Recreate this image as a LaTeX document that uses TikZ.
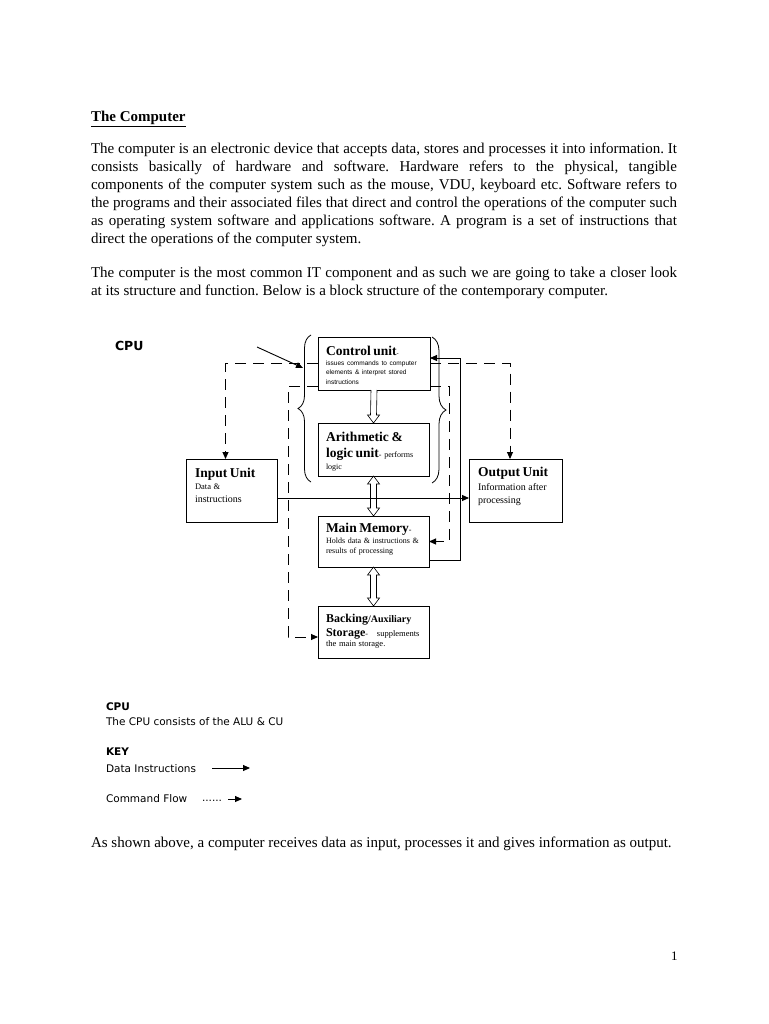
\documentclass[tikz,border=0pt]{standalone}
\usepackage{fontspec}
\setmainfont{Liberation Serif}
\setsansfont{Liberation Sans}
\newfontfamily\keyfont{DejaVu Sans}
\usetikzlibrary{
  arrows.meta,
  positioning,
  calc,
  decorations.pathreplacing
}

\newcommand{\unithead}{\fontsize{13.5}{13.5}\selectfont\bfseries}
\newcommand{\unitnote}{\fontsize{8}{10}\selectfont}
\newcommand{\unitsmall}{\sffamily\fontsize{6.5}{9.5}\selectfont}

% hollow block arrows between the stacked units
\newcommand{\hollowdown}[2]{%
  \draw[hollow] ($(#1.south)+(-3,0)$) -- ($(#2.north)+(-3,-8)$)
    -- ($(#2.north)+(-6,-8)$) -- (#2.north) -- ($(#2.north)+(6,-8)$)
    -- ($(#2.north)+(3,-8)$) -- ($(#1.south)+(3,0)$);}
\newcommand{\hollowboth}[2]{%
  \draw[hollow] (#1.south) -- ($(#1.south)+(6,8)$) -- ($(#1.south)+(3,8)$)
    -- ($(#2.north)+(3,-8)$) -- ($(#2.north)+(6,-8)$) -- (#2.north)
    -- ($(#2.north)+(-6,-8)$) -- ($(#2.north)+(-3,-8)$)
    -- ($(#1.south)+(-3,8)$) -- ($(#1.south)+(-6,8)$) -- cycle;}

\frenchspacing

\begin{document}
\begin{tikzpicture}[
    x=1pt, y=-1pt,
    every node/.style={inner sep=0pt, outer sep=0pt},
    bodytext/.style={font=\fontsize{15}{18}\selectfont, anchor=base west},
    bodypara/.style={bodytext, text width=586pt, align=justify},
    unitbox/.style={draw, line width=1pt, inner xsep=8pt, inner ysep=0pt,
                    align=left, anchor=base west, font=\unitnote},
    keytext/.style={font=\keyfont\fontsize{10.5}{12}\selectfont, anchor=base west},
    dataflow/.style={line width=0.9pt, -{Triangle[length=7pt, width=6pt]}},
    cmdflow/.style={dataflow, dash pattern=on 11pt off 7pt},
    hollow/.style={line width=0.6pt, fill=white},
    cpubrace/.style={decorate, decoration={brace, amplitude=13pt}, line width=0.8pt},
]

\path[fill=white] (0,0) rectangle (768,1024);

% page text
\node[bodytext] (title) at (91,122) {\textbf{\underline{The Computer}}};
\node[bodypara] (para1) at (91,154) {The computer is an electronic device that accepts data, stores and processes it into information. It\linebreak
consists basically of hardware and software. Hardware refers to the physical, tangible\linebreak
components of the computer system such as the mouse, VDU, keyboard etc. Software refers to\linebreak
the programs and their associated files that direct and control the operations of the computer such\linebreak
as operating system software and applications software. A program is a set of instructions that\linebreak
direct the operations of the computer system.};
\node[bodypara] (para2) at (91,277) {The computer is the most common IT component and as such we are going to take a closer look\linebreak
at its structure and function. Below is a block structure of the contemporary computer.};

% units
\node[unitbox, text width=96pt, text height=18pt, text depth=35pt] (cu) at (318,355)
  {{\unithead Control unit}{\unitsmall -}\\
   {\unitsmall issues commands to computer}\\[-0.5pt]
   {\unitsmall elements \& interpret stored}\\[-0.5pt]
   {\unitsmall instructions}};
\node[unitbox, text width=95pt, text height=18pt, text depth=35pt] (alu) at (318,441)
  {{\unithead Arithmetic \&}\\[6pt]
   \mbox{{\unithead logic unit}- performs}\\[2.5pt]
   logic};
\node[unitbox, text width=95pt, text height=16pt, text depth=35pt] (mm) at (318,532)
  {{\unithead Main Memory}-\\[1.5pt]
   \mbox{Holds data \& instructions \&}\\
   results of processing};
\node[unitbox, text width=95pt, text height=16pt, text depth=36pt] (backing) at (318,622)
  {\mbox{{\bfseries\fontsize{12}{12}\selectfont Backing}{\bfseries\fontsize{10}{10}\selectfont/Auxiliary}}\\[3pt]
   \mbox{{\bfseries\fontsize{12}{12}\selectfont Storage}-\hspace{9pt}{\fontsize{8.5}{10}\selectfont supplements}}\\[0pt]
   {\fontsize{8.5}{10}\selectfont the main storage.}};
\node[unitbox, inner xsep=9pt, text width=73pt, text height=18pt, text depth=45pt] (input) at (186,477)
  {{\unithead Input Unit}\\[2pt]
   {\fontsize{8.5}{10}\selectfont Data \&}\\[3pt]
   {\fontsize{10}{10}\selectfont instructions}};
\node[unitbox, inner xsep=9pt, text width=75pt, text height=17pt, text depth=46pt] (output) at (469,476)
  {{\unithead Output Unit}\\[4pt]
   {\fontsize{10}{10}\selectfont Information after}\\[3pt]
   {\fontsize{10}{10}\selectfont processing}};

% CPU braces
\draw[cpubrace] ($(alu.south west)+(-7,6)$) -- ($(cu.north west)+(-7,-2)$);
\draw[cpubrace, decoration={amplitude=14pt}] ($(cu.north east)+(2,0)$) -- ($(alu.south east)+(3,7)$);
\node[keytext, font=\keyfont\fontsize{12.5}{14}\selectfont] (cpulabel) at (115,350) {\textbf{CPU}};
\coordinate (cpupoint) at (257,347);
\coordinate (cputip) at (303,368);
\draw[dataflow] (cpupoint) -- (cputip);

% hollow arrows
\hollowdown{cu}{alu}
\hollowboth{alu}{mm}
\hollowboth{mm}{backing}

% command flow
\draw[cmdflow] (cu.west) -| ([xshift=-6pt]input.north);
\draw[cmdflow] (cu.east) -| ([xshift=-5.5pt]output.north);
\draw[cmdflow] ([yshift=4pt]cu.south west) -- ++(-30,0) |- ([yshift=-5pt]backing.west);
\draw[cmdflow] ([yshift=4pt]cu.south east) -- ++(19,0) |- (mm.east);

% data flow
\draw[dataflow] ([yshift=-7.5pt]input.east) -- ([yshift=-7.5pt]output.west);
\draw[dataflow] ([yshift=7pt]mm.south east) -- ++(31,0) |- ([yshift=5.5pt]cu.east);

% key
\node[keytext] (keycpu) at (106,710) {\textbf{CPU}};
\node[keytext] (keycpunote) at (106,725) {The CPU consists of the ALU \& CU};
\node[keytext] (keyhead) at (106,755) {\textbf{KEY}};
\node[keytext] (keydata) at (106,772) {Data Instructions};
\node[keytext] (keycmd) at (106,802) {Command Flow};
\node[keytext] (keydots) at (202,801) {......};
\coordinate (keydatafrom) at (212,768);
\coordinate (keydatato) at (250,768);
\coordinate (keycmdfrom) at (228,799);
\coordinate (keycmdto) at (242,799);
\draw[dataflow] (keydatafrom) -- (keydatato);
\draw[dataflow] (keycmdfrom) -- (keycmdto);

\node[bodytext] (closing) at (91,847) {As shown above, a computer receives data as input, processes it and gives information as output.};
\node[bodytext, font=\fontsize{13}{14}\selectfont] (pagenum) at (671,960) {1};

\end{tikzpicture}
\end{document}
